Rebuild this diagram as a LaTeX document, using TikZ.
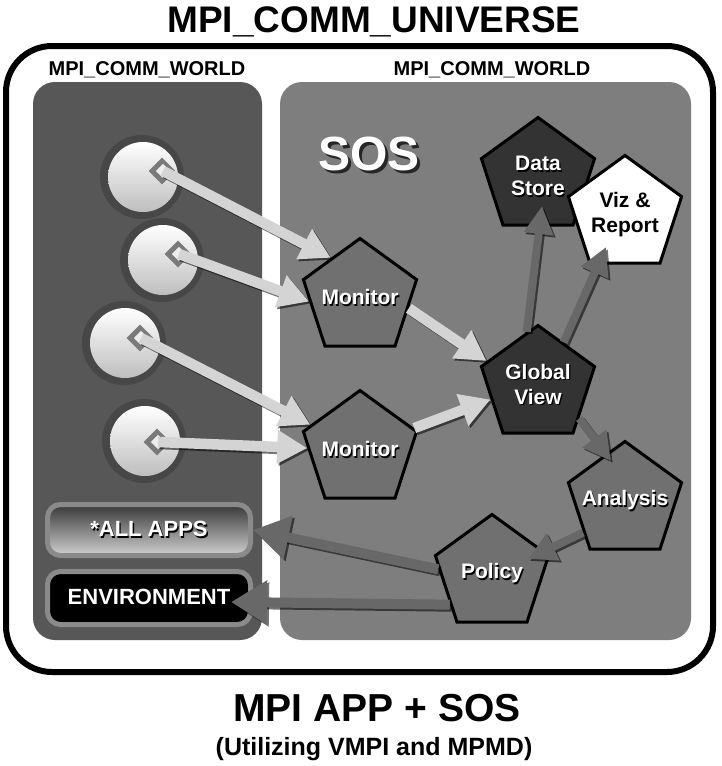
\documentclass[tikz,border=0pt]{standalone}
\usepackage{fontspec}
\setmainfont{Liberation Sans}
\usetikzlibrary{arrows.meta,shapes.geometric,shadows,calc}

\definecolor{leftpanel}{HTML}{575757}
\definecolor{rightpanel}{HTML}{7E7E7E}
\definecolor{pentmid}{HTML}{707070}
\definecolor{pentdark}{HTML}{333333}
\definecolor{arrowlight}{HTML}{D4D4D4}
\definecolor{arrowdark}{HTML}{686868}
\definecolor{ringcol}{HTML}{474747}
\definecolor{boxborder}{HTML}{8A8A8A}
\definecolor{diamcol}{HTML}{7A7A7A}
\definecolor{diskbot}{HTML}{BEBEBE}
\definecolor{boxtop}{HTML}{383838}
\definecolor{boxbot}{HTML}{D0D0D0}

\newcommand\shd[1]{\makebox[0pt][l]{\hspace{1.3pt}\raisebox{-1.3pt}{\textcolor{black}{#1}}}#1}
\newcommand\bigshd[1]{\makebox[0pt][l]{\hspace{3pt}\raisebox{-3.5pt}{\textcolor{black!85}{#1}}}#1}
\newcommand\arr[3]{\draw[#1,shadowed] #2 -- #3; \draw[#1] #2 -- #3;}

\tikzset{
  pent/.style={regular polygon, regular polygon sides=5, minimum size=119pt,
    inner sep=-22pt, draw=black, line width=3pt, fill=pentmid, text=white,
    font=\fontsize{21}{25}\selectfont\bfseries, align=center,
    drop shadow={shadow xshift=2pt, shadow yshift=-2pt, opacity=.55}},
  pentdk/.style={pent, fill=pentdark},
  pentwh/.style={pent, fill=white, text=black},
  ring/.style={circle, fill=ringcol, minimum size=84pt, inner sep=0pt},
  disk/.style={circle, top color=white, bottom color=diskbot, minimum size=70pt, inner sep=0pt},
  diam/.style={rectangle, rotate=45, fill=diamcol, minimum size=19pt, inner sep=0pt},
  diamin/.style={rectangle, rotate=45, fill=white!93!black, minimum size=10pt, inner sep=0pt},
  appbox/.style={rectangle, rounded corners=13pt, draw=boxborder, line width=5pt,
    minimum width=203pt, text=white, font=\fontsize{22}{22}\selectfont\bfseries},
  lightarrow/.style={draw=arrowlight, line width=10.5pt, -{Triangle[length=30pt,width=32pt]}},
  darkarrow/.style={draw=arrowdark, line width=8pt, -{Triangle[length=28pt,width=28pt]}},
  polarrow/.style={draw=arrowdark, line width=10pt, -{Triangle[length=36pt,width=42pt]}},
  shadowed/.style={draw=black, opacity=.55, transform canvas={xshift=2pt,yshift=-2pt}},
  titletext/.style={anchor=base, text=black, font=\fontsize{#1}{#1}\selectfont\bfseries}
}

\begin{document}
\begin{tikzpicture}[x=1pt,y=-1pt]
\useasboundingbox (0,0) rectangle (722,766);
\fill[white] (0,0) rectangle (722,766);

% outer frame
\draw[line width=6pt, rounded corners=46pt, fill=white] (6,46) rectangle (713,672);

% titles
\node[titletext=37] (title) at (374,32) {MPI\_COMM\_UNIVERSE};
\node[titletext=20] (wl) at (147,75) {MPI\_COMM\_WORLD};
\node[titletext=20] (wr) at (492,75) {MPI\_COMM\_WORLD};
\node[titletext=39] (bt) at (377,721) {MPI APP + SOS};
\node[titletext=25] (bs) at (374,755) {(Utilizing VMPI and MPMD)};

% panels
\fill[leftpanel, rounded corners=22pt] (33,82) rectangle (262,640);
\fill[rightpanel, rounded corners=22pt] (280,82) rectangle (691,640);

% application processes
\node[ring] (r1) at (142,177) {};
\node[disk] (w1) at (143,177) {};
\node[diam] (q1) at (162,171) {};
\node[diamin] (d1) at (163,171) {};

\node[ring] (r2) at (162,260) {};
\node[disk] (w2) at (163,260) {};
\node[diam] (q2) at (178,254) {};
\node[diamin] (d2) at (179,254) {};

\node[ring] (r3) at (124,343) {};
\node[disk] (w3) at (125,343) {};
\node[diam] (q3) at (140,338) {};
\node[diamin] (d3) at (141,338) {};

\node[ring] (r4) at (144,441) {};
\node[disk] (w4) at (145,441) {};
\node[diam] (q4) at (157,442) {};
\node[diamin] (d4) at (158,442) {};

% boxes
\node[appbox, minimum height=51pt, top color=boxtop, bottom color=boxbot] (apps) at (149,530) {\shd{*ALL APPS}};
\node[appbox, minimum height=53pt, fill=black] (env) at (149,598) {\shd{ENVIRONMENT}};

% SOS label
\node[anchor=base, text=white, font=\fontsize{48}{48}\selectfont\bfseries] (sos) at (369,170) {\bigshd{SOS}};

% pentagons
\node[pent] (mon1) at (360,298) {\shd{Monitor}};
\node[pent] (mon2) at (360,450) {\shd{Monitor}};
\node[pentdk] (gv) at (538,385) {\shd{Global}\\\shd{View}};
\node[pentdk] (ds) at (538,177) {\shd{Data}\\\shd{Store}};
\node[pentwh] (viz) at (625,215) {Viz \&\\Report};
\node[pent] (an) at (625,501) {\shd{Analysis}};
\node[pent] (pol) at (492,574) {\shd{Policy}};

% arrows
\arr{lightarrow}{(d1.center)}{(mon1.126)}
\arr{lightarrow}{(d2.center)}{(mon1.184)}
\arr{lightarrow}{(d3.center)}{(mon2.153)}
\arr{lightarrow}{(d4.center)}{(mon2.178)}
\arr{lightarrow}{(mon1.-12)}{(gv.155)}
\arr{lightarrow}{(mon2.22)}{(gv.197)}

\arr{darkarrow}{(gv.102)}{($(ds.center)+(4,29)$)}
\arr{darkarrow}{(gv.59)}{($(viz.center)+(-19,32)$)}
\arr{darkarrow}{(gv.-39)}{($(an.center)+(-14,-40)$)}
\arr{darkarrow}{(an.217)}{($(pol.center)+(36,-15)$)}

\arr{polarrow}{(pol.175)}{(apps.east)}
\arr{polarrow}{(pol.216)}{($(env.east)+(-22,4)$)}
\end{tikzpicture}
\end{document}
